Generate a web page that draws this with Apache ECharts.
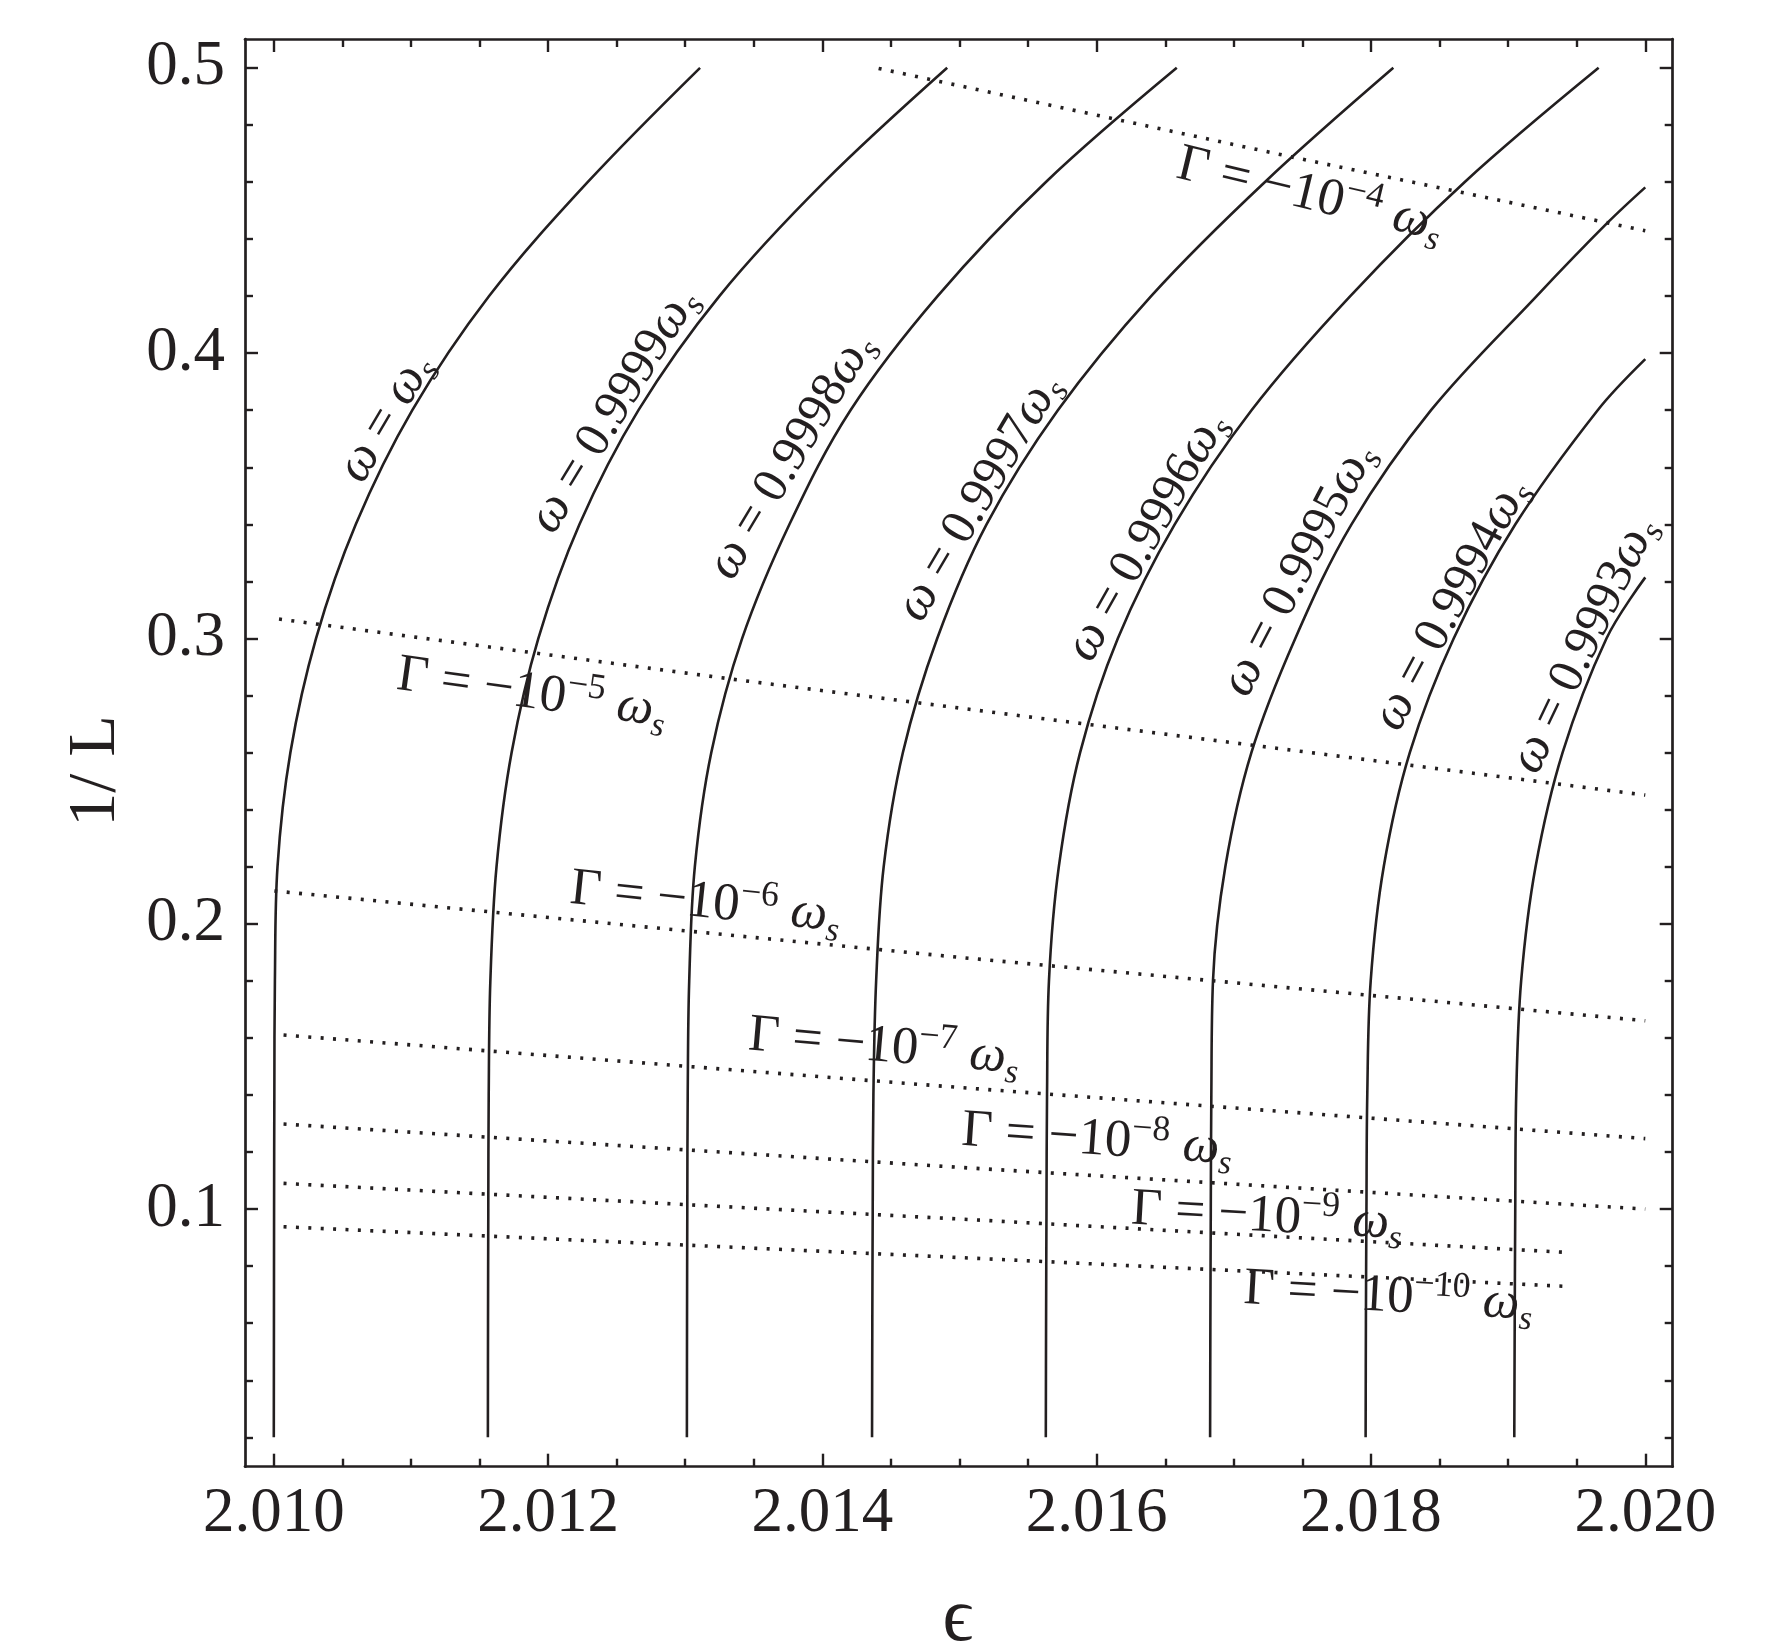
<!DOCTYPE html>
<html>
<head>
<meta charset="utf-8">
<script src="https://cdn.jsdelivr.net/npm/echarts@6/dist/echarts.min.js"></script>
<style>
html,body{margin:0;padding:0;background:#fff;}
#chart{width:1777px;height:1650px;}
</style>
</head>
<body>
<div id="chart"></div>
<script>
// ---------------- data ----------------
const xTickLabels = [2.010, 2.012, 2.014, 2.016, 2.018, 2.020];
const xMinorTicks = [2.0105, 2.011, 2.0115, 2.0125, 2.013, 2.0135, 2.0145, 2.015, 2.0155, 2.0165, 2.017, 2.0175, 2.0185, 2.019, 2.0195];
const yTickLabels = [0.1, 0.2, 0.3, 0.4, 0.5];
const yMinorTicks = [0.02, 0.04, 0.06, 0.08, 0.12, 0.14, 0.16, 0.18, 0.22, 0.24, 0.26, 0.28, 0.32, 0.34, 0.36, 0.38, 0.42, 0.44, 0.46, 0.48];

// solid curves: [epsilon, 1/L]
const omega1000 = [[2.010000,0.02],[2.010001,0.06],[2.010002,0.10],[2.010004,0.14],[2.010008,0.18],[2.010027,0.22],[2.010121,0.26],[2.010308,0.30],[2.010598,0.34],[2.011010,0.38],[2.011570,0.42],[2.012290,0.46],[2.013108,0.50]];
const omega9999 = [[2.011561,0.02],[2.011562,0.06],[2.011564,0.10],[2.011567,0.14],[2.011579,0.18],[2.011624,0.22],[2.011734,0.26],[2.011929,0.30],[2.012229,0.34],[2.012659,0.38],[2.013249,0.42],[2.014014,0.46],[2.014910,0.50]];
const omega9998 = [[2.013012,0.02],[2.013013,0.06],[2.013015,0.10],[2.013018,0.14],[2.013029,0.18],[2.013070,0.22],[2.013190,0.26],[2.013415,0.30],[2.013760,0.34],[2.014205,0.38],[2.014840,0.42],[2.015630,0.46],[2.016584,0.50]];
const omega9997 = [[2.014362,0.02],[2.014364,0.06],[2.014367,0.10],[2.014372,0.14],[2.014392,0.18],[2.014447,0.22],[2.014587,0.26],[2.014837,0.30],[2.015197,0.34],[2.015717,0.38],[2.016397,0.42],[2.017227,0.46],[2.018163,0.50]];
const omega9996 = [[2.015629,0.02],[2.015631,0.06],[2.015634,0.10],[2.015638,0.14],[2.015652,0.18],[2.015724,0.22],[2.015879,0.26],[2.016154,0.30],[2.016569,0.34],[2.017129,0.38],[2.017849,0.42],[2.018684,0.46],[2.019660,0.50]];
const omega9995 = [[2.016827,0.02],[2.016829,0.06],[2.016832,0.10],[2.016836,0.14],[2.016848,0.18],[2.016938,0.22],[2.017128,0.26],[2.017448,0.30],[2.017858,0.34],[2.018438,0.38],[2.019208,0.42],[2.019727,0.4458],[2.020000,0.4581]];
const omega9994 = [[2.017961,0.02],[2.017963,0.06],[2.017967,0.10],[2.017973,0.14],[2.017998,0.18],[2.018093,0.22],[2.018283,0.26],[2.018603,0.30],[2.019053,0.34],[2.019653,0.38],[2.020000,0.3979]];
const omega9993 = [[2.019045,0.02],[2.019048,0.06],[2.019052,0.10],[2.019059,0.14],[2.019095,0.18],[2.019200,0.22],[2.019397,0.26],[2.019717,0.30],[2.020000,0.3214]];

// dotted lines (decay rate contours)
const gamma4  = [[2.01441,0.4998],[2.017398,0.4690],[2.0200,0.4429]];
const gamma5  = [[2.010038,0.3068],[2.013330,0.2858],[2.0200,0.2451]];
const gamma6  = [[2.010004,0.2115],[2.015004,0.1882],[2.0200,0.1660]];
const gamma7  = [[2.010071,0.1610],[2.015004,0.1426],[2.0200,0.1247]];
const gamma8  = [[2.010071,0.1298],[2.015004,0.1146],[2.0200,0.1000]];
const gamma9  = [[2.010071,0.1090],[2.015004,0.0965],[2.019427,0.0848]];
const gamma10 = [[2.010071,0.0938],[2.015004,0.0830],[2.019427,0.0729]];

// curve labels
const omegaValues = ['', '0.9999', '0.9998', '0.9997', '0.9996', '0.9995', '0.9994', '0.9993'];
const omegaLabelAt = [[2.010818,0.3773],[2.012481,0.3799],[2.013776,0.3639],[2.015146,0.3494],[2.016367,0.3357],[2.017474,0.3241],[2.018586,0.3119],[2.019556,0.2977]];
const omegaLabelAngle = [59.5, 58.5, 59, 59.5, 60.5, 62.5, 62, 64.5];
const gammaExponents = ['−4', '−5', '−6', '−7', '−8', '−9', '−10'];
const gammaLabelAt = [[2.017556,0.4553],[2.011882,0.2806],[2.013147,0.2072],[2.014449,0.1567],[2.016003,0.1241],[2.017241,0.0972],[2.018126,0.0691]];
const gammaLabelAngle = [-13.5, -8, -6, -5, -4, -3.2, -3.2];

// ---------------- chart ----------------
const INK = '#231f20';
const X_MIN = 2.00979, X_MAX = 2.0202;
const Y_MIN = 0.0097, Y_MAX = 0.5101;
const SERIF = '"Liberation Serif", "DejaVu Serif", serif';

function xAxis(position, ticks, len, withLabels, withLine) {
  return {
    type: 'value', position: position, min: X_MIN, max: X_MAX, scale: true,
    axisLine: {show: withLine, onZero: false, lineStyle: {color: INK, width: 2.7}},
    axisTick: {show: true, inside: true, length: len, customValues: ticks, lineStyle: {color: INK, width: 2.4}},
    axisLabel: {show: withLabels, customValues: xTickLabels, formatter: v => v.toFixed(3),
      fontFamily: SERIF, fontSize: 63, lineHeight: 63, color: INK, margin: 16},
    splitLine: {show: false}
  };
}
function yAxis(position, ticks, len, withLabels, withLine) {
  return {
    type: 'value', position: position, min: Y_MIN, max: Y_MAX, scale: true,
    axisLine: {show: withLine, onZero: false, lineStyle: {color: INK, width: 2.7}},
    axisTick: {show: true, inside: true, length: len, customValues: ticks, lineStyle: {color: INK, width: 2.4}},
    axisLabel: {show: withLabels, customValues: yTickLabels, formatter: v => v.toFixed(1),
      fontFamily: SERIF, fontSize: 63, lineHeight: 63, color: INK, margin: 20},
    splitLine: {show: false}
  };
}

const solidCurves = [omega1000, omega9999, omega9998, omega9997, omega9996, omega9995, omega9994, omega9993];
const dottedCurves = [gamma4, gamma5, gamma6, gamma7, gamma8, gamma9, gamma10];

const RICH = {
  n:   {fontFamily: SERIF, fontStyle: 'normal', fontSize: 50, lineHeight: 62, fill: INK},
  g:   {fontFamily: SERIF, fontStyle: 'normal', fontSize: 53, lineHeight: 64, fill: INK},
  it:  {fontFamily: SERIF, fontStyle: 'italic', fontSize: 52, lineHeight: 62, fill: INK},
  sup: {fontFamily: SERIF, fontStyle: 'normal', fontSize: 36, lineHeight: 36, verticalAlign: 'top', fill: INK},
  sub: {fontFamily: SERIF, fontStyle: 'italic', fontSize: 34, lineHeight: 42, verticalAlign: 'bottom', fill: INK}
};

const labelTexts = [];
const labelAngles = [];
const labelData = [];
omegaValues.forEach((v, i) => {
  labelTexts.push('{it|ω}{n| = ' + v + '}{it|ω}{sub|s}');
  labelAngles.push(omegaLabelAngle[i]);
  labelData.push([omegaLabelAt[i][0], omegaLabelAt[i][1], labelTexts.length - 1]);
});
gammaExponents.forEach((e, i) => {
  labelTexts.push('{g|Γ = −10}{sup|' + e + '}{g| }{it|ω}{sub|s}');
  labelAngles.push(gammaLabelAngle[i]);
  labelData.push([gammaLabelAt[i][0], gammaLabelAt[i][1], labelTexts.length - 1]);
});

const series = [];
solidCurves.forEach(c => series.push({
  type: 'line', data: c, xAxisIndex: 0, yAxisIndex: 0, showSymbol: false, smooth: 0.35,
  lineStyle: {color: INK, width: 2.6}, silent: true
}));
dottedCurves.forEach(c => series.push({
  type: 'line', data: c, xAxisIndex: 0, yAxisIndex: 0, showSymbol: false, smooth: false,
  lineStyle: {color: INK, width: 3.6, type: [3.0, 9.4], cap: 'butt'}, silent: true
}));
series.push({
  type: 'custom', xAxisIndex: 0, yAxisIndex: 0, data: labelData, silent: true, z: 10,
  renderItem: (params, api) => {
    const idx = api.value(2);
    const p = api.coord([api.value(0), api.value(1)]);
    return {
      type: 'text', x: p[0], y: p[1], rotation: labelAngles[idx] * Math.PI / 180,
      style: {text: labelTexts[idx], rich: RICH, align: 'center', verticalAlign: 'middle', fill: INK,
              font: '50px ' + SERIF}
    };
  }
});

const chart = echarts.init(document.getElementById('chart'), null, {renderer: 'canvas'});
chart.setOption({
  animation: false,
  backgroundColor: '#fff',
  grid: {left: 245, right: 104.3, top: 39, bottom: 183.3, containLabel: false},
  xAxis: [
    xAxis('bottom', xTickLabels, 13, true, true),
    xAxis('bottom', xMinorTicks, 8, false, false),
    xAxis('top', xTickLabels, 13, false, true),
    xAxis('top', xMinorTicks, 8, false, false)
  ],
  yAxis: [
    yAxis('left', yTickLabels, 13, true, true),
    yAxis('left', yMinorTicks, 8, false, false),
    yAxis('right', yTickLabels, 13, false, true),
    yAxis('right', yMinorTicks, 8, false, false)
  ],
  graphic: [
    {type: 'text', x: 96, y: 771, rotation: Math.PI / 2,
     style: {text: '1/ L', font: '68px ' + SERIF, fill: INK, align: 'center', verticalAlign: 'middle'}},
    {type: 'text', x: 958, y: 1620,
     style: {text: 'ϵ', font: '76px ' + SERIF, fill: INK, align: 'center', verticalAlign: 'middle'}}
  ],
  series: series
});
</script>
</body>
</html>
